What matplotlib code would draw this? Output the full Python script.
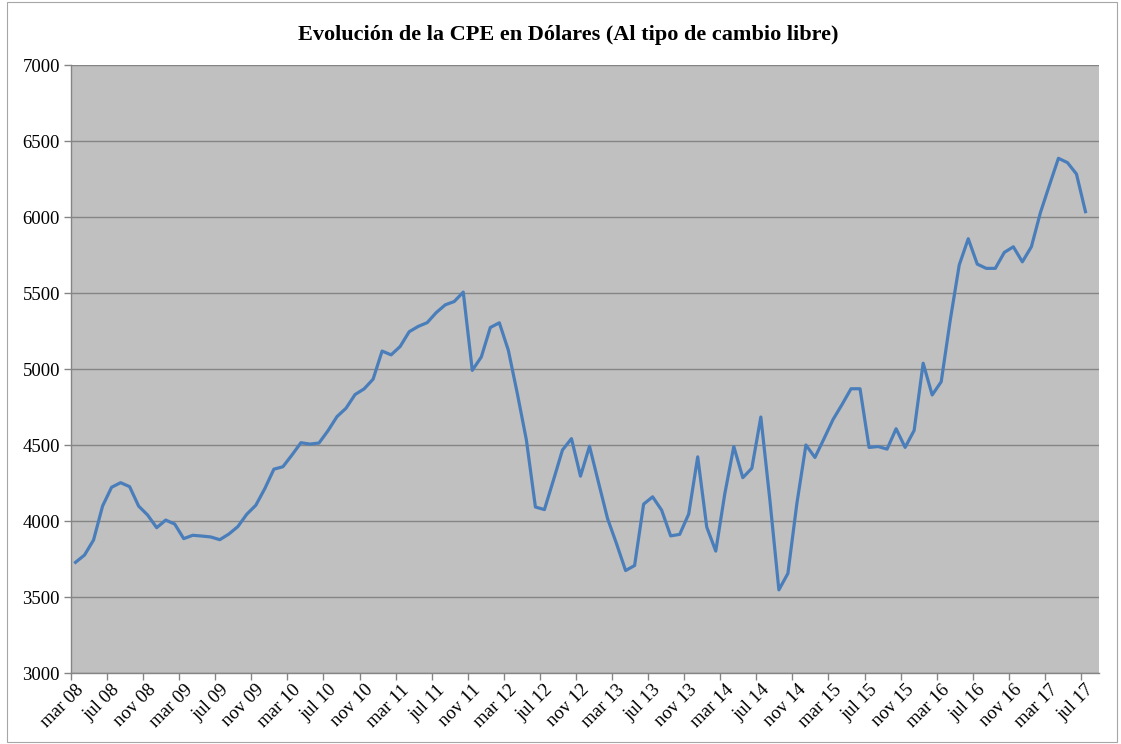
import numpy as np
import matplotlib.pyplot as plt
from matplotlib.patches import Rectangle

# monthly values, mar 08 .. jul 17
cpe = [3730, 3778, 3877, 4100, 4224, 4254, 4228, 4100, 4041, 3958,
       4008, 3982, 3886, 3908, 3903, 3897, 3879, 3916, 3965, 4047,
       4106, 4216, 4343, 4359, 4436, 4517, 4508, 4515, 4596, 4689,
       4744, 4834, 4871, 4935, 5120, 5095, 5150, 5247, 5282, 5307,
       5373, 5424, 5446, 5508, 4993, 5081, 5275, 5306, 5125, 4839,
       4535, 4094, 4077, 4271, 4469, 4544, 4297, 4494, 4255, 4018,
       3852, 3676, 3709, 4113, 4161, 4073, 3904, 3914, 4048, 4424,
       3962, 3804, 4180, 4492, 4287, 4349, 4686, 4141, 3549, 3657,
       4119, 4502, 4420, 4543, 4669, 4768, 4872, 4872, 4486, 4492,
       4475, 4609, 4486, 4598, 5040, 4831, 4918, 5322, 5686, 5859,
       5692, 5664, 5664, 5769, 5806, 5707, 5806, 6030, 6211, 6388,
       6360, 6285, 6037]

meses = ["mar", "jul", "nov"]
anios = ["08", "09", "10", "11", "12", "13", "14", "15", "16", "17"]
etiquetas = [f"{m} {a}" for a in anios for m in meses][:29]
n_cat = 114  # one empty category after the last month

plt.rcParams['font.family'] = ['Liberation Serif', 'DejaVu Serif']

fig = plt.figure(figsize=(11.21, 7.44), dpi=100)
ax = fig.add_axes([71/1121, 1 - 673.3/744, 1028/1121, (673.3 - 65.3)/744])

x = np.arange(len(cpe))
ax.plot(x, cpe, color='#4A7EBB', lw=2.3, solid_joinstyle='round', zorder=3)

ax.set_facecolor('#C0C0C0')
ax.set_xlim(-0.5, n_cat - 0.5)
ax.set_ylim(3000, 7000)
ax.set_yticks(np.arange(3000, 7001, 500))
ax.yaxis.grid(True, color='#858585', lw=1.0)
ax.set_axisbelow(True)

ax.set_xticks(np.arange(0, len(etiquetas) * 4, 4))
ax.set_xticklabels(etiquetas, rotation=45, ha='right', va='top',
                   rotation_mode='anchor')
ax.tick_params(axis='x', which='major', length=0, pad=6, labelsize=13.5)
ax.set_xticks(np.arange(-0.5, n_cat - 1, 4), minor=True)
ax.tick_params(axis='x', which='minor', length=5, color='#858585', width=1)
ax.tick_params(axis='y', length=5, color='#858585', width=1, labelsize=13.5, pad=3)

for s in ['top', 'right']:
    ax.spines[s].set_visible(False)
for s in ['left', 'bottom']:
    ax.spines[s].set_color('#858585')
    ax.spines[s].set_linewidth(1.0)

ax.set_title("Evolución de la CPE en Dólares (Al tipo de cambio libre)",
             fontsize=16, fontweight='bold', pad=18, x=0.4835)

fig.patches.append(Rectangle((7/1121, 2/744), 1110/1121, 740/744,
                             transform=fig.transFigure, fill=False,
                             edgecolor='#A6A6A6', lw=0.8))

fig.savefig('out.png', dpi=100)
